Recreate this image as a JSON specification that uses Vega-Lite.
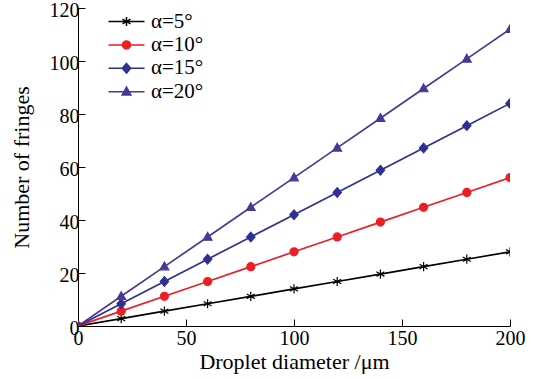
{
  "$schema": "https://vega.github.io/schema/vega-lite/v6.json",
  "width": 432,
  "height": 318,
  "autosize": {"type": "none"},
  "padding": {"left": 78, "top": 8, "right": 26, "bottom": 53},
  "background": "white",
  "config": {
    "view": {"stroke": null},
    "font": "Liberation Serif",
    "style": {
      "guide-label": {"font": "Liberation Serif", "fill": "black"},
      "guide-title": {"font": "Liberation Serif", "fill": "black"}
    },
    "legend": {"labelFont": "Liberation Serif"},
    "axis": {
      "grid": false,
      "domainColor": "black",
      "domainWidth": 1,
      "tickColor": "black",
      "tickWidth": 1,
      "tickSize": -7,
      "labelFont": "Liberation Serif",
      "labelFontSize": 20,
      "labelColor": "black",
      "titleFont": "Liberation Serif",
      "titleFontSize": 22,
      "titleFontWeight": "normal",
      "titleColor": "black",
      "labelFlush": false,
      "labelOverlap": false
    }
  },
  "data": {
    "values": [
      {"series": "α=5°", "d": 0, "n": 0},
      {"series": "α=5°", "d": 20, "n": 2.8},
      {"series": "α=5°", "d": 40, "n": 5.6},
      {"series": "α=5°", "d": 60, "n": 8.4},
      {"series": "α=5°", "d": 80, "n": 11.2},
      {"series": "α=5°", "d": 100, "n": 14},
      {"series": "α=5°", "d": 120, "n": 16.8},
      {"series": "α=5°", "d": 140, "n": 19.6},
      {"series": "α=5°", "d": 160, "n": 22.4},
      {"series": "α=5°", "d": 180, "n": 25.2},
      {"series": "α=5°", "d": 200, "n": 28},
      {"series": "α=10°", "d": 0, "n": 0},
      {"series": "α=10°", "d": 20, "n": 5.6},
      {"series": "α=10°", "d": 40, "n": 11.2},
      {"series": "α=10°", "d": 60, "n": 16.8},
      {"series": "α=10°", "d": 80, "n": 22.4},
      {"series": "α=10°", "d": 100, "n": 28},
      {"series": "α=10°", "d": 120, "n": 33.6},
      {"series": "α=10°", "d": 140, "n": 39.2},
      {"series": "α=10°", "d": 160, "n": 44.8},
      {"series": "α=10°", "d": 180, "n": 50.4},
      {"series": "α=10°", "d": 200, "n": 56},
      {"series": "α=15°", "d": 0, "n": 0},
      {"series": "α=15°", "d": 20, "n": 8.4},
      {"series": "α=15°", "d": 40, "n": 16.8},
      {"series": "α=15°", "d": 60, "n": 25.2},
      {"series": "α=15°", "d": 80, "n": 33.6},
      {"series": "α=15°", "d": 100, "n": 42},
      {"series": "α=15°", "d": 120, "n": 50.4},
      {"series": "α=15°", "d": 140, "n": 58.8},
      {"series": "α=15°", "d": 160, "n": 67.2},
      {"series": "α=15°", "d": 180, "n": 75.6},
      {"series": "α=15°", "d": 200, "n": 84},
      {"series": "α=20°", "d": 0, "n": 0},
      {"series": "α=20°", "d": 20, "n": 11.2},
      {"series": "α=20°", "d": 40, "n": 22.4},
      {"series": "α=20°", "d": 60, "n": 33.6},
      {"series": "α=20°", "d": 80, "n": 44.8},
      {"series": "α=20°", "d": 100, "n": 56},
      {"series": "α=20°", "d": 120, "n": 67.2},
      {"series": "α=20°", "d": 140, "n": 78.4},
      {"series": "α=20°", "d": 160, "n": 89.6},
      {"series": "α=20°", "d": 180, "n": 100.8},
      {"series": "α=20°", "d": 200, "n": 112}
    ]
  },
  "encoding": {
    "x": {
      "field": "d", "type": "quantitative",
      "scale": {"domain": [0, 200], "nice": false, "zero": false},
      "axis": {"values": [0, 50, 100, 150, 200], "title": "Droplet diameter /μm", "labelFont": "Liberation Serif", "titleFont": "Liberation Serif", "labelPadding": 9, "titlePadding": 3}
    },
    "y": {
      "field": "n", "type": "quantitative",
      "scale": {"domain": [0, 120], "nice": false},
      "axis": {"values": [0, 20, 40, 60, 80, 100, 120], "title": "Number of fringes", "labelFont": "Liberation Serif", "titleFont": "Liberation Serif", "labelPadding": 6, "labelOffset": 2, "titlePadding": 16}
    }
  },
  "resolve": {"scale": {"color": "independent", "shape": "independent", "stroke": "independent"}},
  "layer": [
    {
      "mark": {"type": "line", "strokeWidth": 1.7, "clip": true},
      "encoding": {
        "color": {
          "field": "series", "type": "nominal",
          "scale": {"domain": ["α=5°", "α=10°", "α=15°", "α=20°"], "range": ["#000000", "#ee1d23", "#2e3192", "#4b3699"]},
          "legend": null
        }
      }
    },
    {
      "mark": {"type": "point", "filled": true, "opacity": 1, "size": 64, "strokeWidth": 1.2, "clip": true},
      "encoding": {
        "color": {
          "field": "series", "type": "nominal",
          "scale": {"domain": ["α=5°", "α=10°", "α=15°", "α=20°"], "range": ["#000000", "#ee1d23", "#2e3192", "#4b3699"]},
          "legend": null
        },
        "stroke": {
          "field": "series", "type": "nominal",
          "scale": {"domain": ["α=5°", "α=10°", "α=15°", "α=20°"], "range": ["#000000", "#ee1d23", "#2e3192", "#4b3699"]},
          "legend": null
        },
        "shape": {
          "field": "series", "type": "nominal",
          "scale": {
            "domain": ["α=5°", "α=10°", "α=15°", "α=20°"],
            "range": [
              "M0,-1.15V1.15M-1,-0.58L1,0.58M-1,0.58L1,-0.58",
              "M-1,0A1,1,0,1,1,1,0A1,1,0,1,1,-1,0Z",
              "M0,-1.2L1.05,0L0,1.2L-1.05,0Z",
              "M0,-1.15L1.1,0.8L-1.1,0.8Z"
            ]
          },
          "legend": null
        }
      }
    },
    {
      "transform": [{"filter": "false"}],
      "mark": {"type": "point", "filled": true, "opacity": 1},
      "encoding": {
        "color": {
          "field": "series", "type": "nominal",
          "scale": {"domain": ["α=5°", "α=10°", "α=15°", "α=20°"], "range": ["#000000", "#ee1d23", "#2e3192", "#4b3699"]},
          "legend": {
            "title": null, "orient": "none", "legendX": 38, "legendY": 3,
            "symbolSize": 64, "symbolStrokeWidth": 1.5, "labelOffset": 14,
            "labelFont": "Liberation Serif", "labelFontSize": 21, "labelColor": "black",
            "rowPadding": 1.4, "padding": 0
          }
        },
        "stroke": {
          "field": "series", "type": "nominal",
          "scale": {"domain": ["α=5°", "α=10°", "α=15°", "α=20°"], "range": ["#000000", "#ee1d23", "#2e3192", "#4b3699"]},
          "legend": {
            "title": null, "orient": "none", "legendX": 38, "legendY": 3,
            "symbolSize": 64, "symbolStrokeWidth": 1.5, "labelOffset": 14,
            "labelFont": "Liberation Serif", "labelFontSize": 21, "labelColor": "black",
            "rowPadding": 1.4, "padding": 0
          }
        },
        "shape": {
          "field": "series", "type": "nominal",
          "scale": {
            "domain": ["α=5°", "α=10°", "α=15°", "α=20°"],
            "range": [
              "M-4.5,0H4.5M0,-1.15V1.15M-1,-0.58L1,0.58M-1,0.58L1,-0.58",
              "M-4.5,0H4.5M-1,0A1,1,0,1,1,1,0A1,1,0,1,1,-1,0Z",
              "M-4.5,0H4.5M0,-1.2L1.05,0L0,1.2L-1.05,0Z",
              "M-4.5,0H4.5M0,-1.15L1.1,0.8L-1.1,0.8Z"
            ]
          },
          "legend": {
            "title": null, "orient": "none", "legendX": 38, "legendY": 3,
            "symbolSize": 64, "symbolStrokeWidth": 1.5, "labelOffset": 14,
            "labelFont": "Liberation Serif", "labelFontSize": 21, "labelColor": "black",
            "rowPadding": 1.4, "padding": 0
          }
        }
      }
    }
  ]
}
